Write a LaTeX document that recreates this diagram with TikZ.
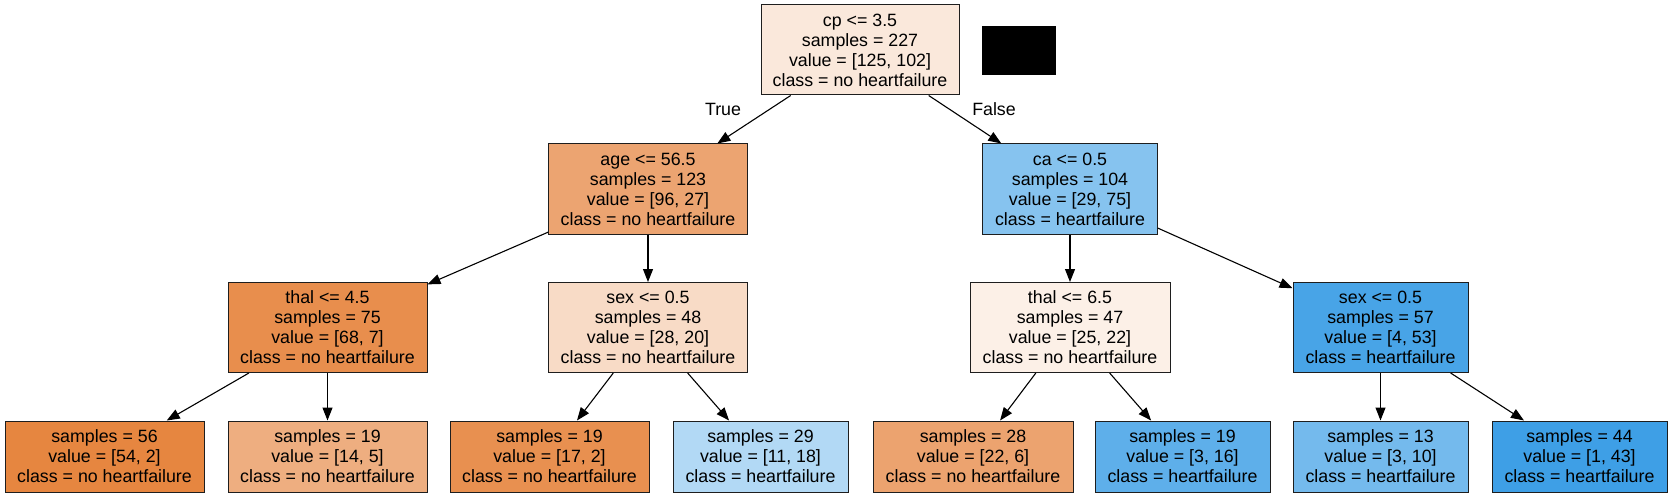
\documentclass[tikz,border=0pt]{standalone}
\usepackage{fontspec}
\setmainfont{Liberation Sans}
\usetikzlibrary{arrows.meta}
\definecolor{cRoot}{RGB}{250,232,219}
\definecolor{cAge}{RGB}{236,164,113}
\definecolor{cCa}{RGB}{134,195,239}
\definecolor{cThalA}{RGB}{232,142,77}
\definecolor{cSexA}{RGB}{248,219,198}
\definecolor{cThalB}{RGB}{252,240,231}
\definecolor{cSexB}{RGB}{72,164,231}
\definecolor{cLa}{RGB}{230,134,64}
\definecolor{cLb}{RGB}{238,174,128}
\definecolor{cLc}{RGB}{232,144,80}
\definecolor{cLd}{RGB}{178,217,245}
\definecolor{cLe}{RGB}{236,163,111}
\definecolor{cLf}{RGB}{94,175,234}
\definecolor{cLg}{RGB}{116,186,237}
\definecolor{cLh}{RGB}{62,159,230}
\definecolor{bord}{RGB}{30,30,30}
\begin{document}
\begin{tikzpicture}[x=1pt,y=-1pt,
  tn/.style={draw=bord, line width=1pt, rectangle, align=center, inner sep=0pt,
    font=\fontsize{17.8}{20}\selectfont},
  inner/.style={tn, minimum height=90pt},
  leaf/.style={tn, minimum height=71pt},
  ed/.style={line width=1.1pt, -{Triangle[length=13pt,width=10pt]}},
  lbl/.style={font=\fontsize{17.8}{20}\selectfont, inner sep=0pt}]
\useasboundingbox (0,0) rectangle (1672,497);
\fill[white] (0,0) rectangle (1672,497);

\node[inner, fill=cRoot, minimum width=198pt] (root) at (860,50) {cp <= 3.5\\samples = 227\\value = [125, 102]\\class = no heartfailure};
\fill[black] (982,26) rectangle (1056,75);

\node[inner, fill=cAge, minimum width=199pt] (age) at (648,189) {age <= 56.5\\samples = 123\\value = [96, 27]\\class = no heartfailure};
\node[inner, fill=cCa, minimum width=175pt] (ca) at (1070,189) {ca <= 0.5\\samples = 104\\value = [29, 75]\\class = heartfailure};

\node[inner, fill=cThalA, minimum width=199pt] (thalA) at (327.5,327.5) {thal <= 4.5\\samples = 75\\value = [68, 7]\\class = no heartfailure};
\node[inner, fill=cSexA, minimum width=199pt] (sexA) at (648,327.5) {sex <= 0.5\\samples = 48\\value = [28, 20]\\class = no heartfailure};
\node[inner, fill=cThalB, minimum width=200pt] (thalB) at (1070,327.5) {thal <= 6.5\\samples = 47\\value = [25, 22]\\class = no heartfailure};
\node[inner, fill=cSexB, minimum width=175pt] (sexB) at (1380.5,327.5) {sex <= 0.5\\samples = 57\\value = [4, 53]\\class = heartfailure};

\node[leaf, fill=cLa, minimum width=199pt] (la) at (104.5,456.5) {samples = 56\\value = [54, 2]\\class = no heartfailure};
\node[leaf, fill=cLb, minimum width=199pt] (lb) at (327.5,456.5) {samples = 19\\value = [14, 5]\\class = no heartfailure};
\node[leaf, fill=cLc, minimum width=199pt] (lc) at (549.5,456.5) {samples = 19\\value = [17, 2]\\class = no heartfailure};
\node[leaf, fill=cLd, minimum width=175pt] (ld) at (760.5,456.5) {samples = 29\\value = [11, 18]\\class = heartfailure};
\node[leaf, fill=cLe, minimum width=200pt] (le) at (973,456.5) {samples = 28\\value = [22, 6]\\class = no heartfailure};
\node[leaf, fill=cLf, minimum width=175pt] (lf) at (1182.5,456.5) {samples = 19\\value = [3, 16]\\class = heartfailure};
\node[leaf, fill=cLg, minimum width=175pt] (lg) at (1380.5,456.5) {samples = 13\\value = [3, 10]\\class = heartfailure};
\node[leaf, fill=cLh, minimum width=175pt] (lh) at (1579.5,456.5) {samples = 44\\value = [1, 43]\\class = heartfailure};

\draw[ed] (root) -- (age);
\draw[ed] (root) -- (ca);
\draw[ed] (age) -- (thalA);
\draw[ed] (age) -- (sexA);
\draw[ed] (ca) -- (thalB);
\draw[ed] (ca) -- (sexB);
\draw[ed] (thalA) -- (la);
\draw[ed] (thalA) -- (lb);
\draw[ed] (sexA) -- (lc);
\draw[ed] (sexA) -- (ld);
\draw[ed] (thalB) -- (le);
\draw[ed] (thalB) -- (lf);
\draw[ed] (sexB) -- (lg);
\draw[ed] (sexB) -- (lh);

\node[lbl] (tlab) at (723,109) {True};
\node[lbl] (flab) at (994,109) {False};
\end{tikzpicture}
\end{document}
